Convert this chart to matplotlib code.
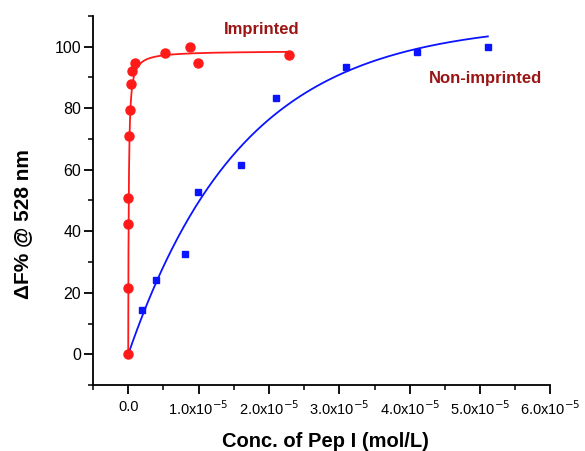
import numpy as np
import matplotlib
matplotlib.use('Agg')
import matplotlib.pyplot as plt
from matplotlib.ticker import MultipleLocator, FuncFormatter

plt.rcParams['font.family'] = ['Liberation Sans', 'DejaVu Sans']

# concentrations in units of 1e-5 mol/L
imp_x = [0, 0.002, 0.003, 0.004, 0.006, 0.03, 0.04, 0.06, 0.10, 0.52, 0.88, 0.99, 2.29]
imp_y = [0, 21.6, 42.2, 50.9, 70.8, 79.4, 87.8, 92.0, 94.5, 97.9, 100.0, 94.6, 97.3]

non_x = [0, 0.19, 0.39, 0.80, 0.99, 1.60, 2.10, 3.10, 4.10, 5.11]
non_y = [0, 14.3, 24.1, 32.5, 52.7, 61.5, 83.2, 93.2, 98.1, 100.0]

# fit parameters
imp_bmax, imp_k = 98.6, 0.0075      # y = bmax*x/(k+x)
non_a, non_t = 108.0, 1.63          # y = a*(1-exp(-x/t))

xticks = [0, 1, 2, 3, 4, 5, 6]
red = '#ff1a1a'
blue = '#0a14ff'
label_col = '#9a1515'

fig = plt.figure(figsize=(5.85, 4.51), dpi=100)
ax = fig.add_axes([0.159, 0.146, 0.782, 0.819])

xf = np.linspace(0, max(imp_x), 600)
ax.plot(xf, imp_bmax * xf / (imp_k + xf), color=red, lw=1.3, zorder=2)
xn = np.linspace(0, max(non_x), 300)
ax.plot(xn, non_a * (1 - np.exp(-xn / non_t)), color=blue, lw=1.3, zorder=2)

ax.plot(imp_x, imp_y, 'o', color=red, ms=6.5, mec=red, zorder=3)
ax.plot(non_x[1:], non_y[1:], 's', color=blue, ms=5, mec=blue, zorder=3)

ax.set_xlim(-0.5, 6.0)
ax.set_ylim(-10, 110)

for s in ['top', 'right']:
    ax.spines[s].set_visible(False)
for s in ['left', 'bottom']:
    ax.spines[s].set_linewidth(1.3)

ax.set_xticks(xticks)
ax.xaxis.set_minor_locator(MultipleLocator(0.5))
ax.yaxis.set_minor_locator(MultipleLocator(10))
ax.set_yticks([0, 20, 40, 60, 80, 100])

def fmt(v, pos):
    if v == 0:
        return '0.0'
    return '%.1fx10$^{-5}$' % v

ax.xaxis.set_major_formatter(FuncFormatter(fmt))
ax.tick_params(which='major', direction='out', length=6.5, width=1.3)
ax.tick_params(which='minor', direction='out', length=3.5, width=1.1)
ax.tick_params(axis='x', which='major', pad=4, labelsize=10.5)
ax.tick_params(axis='y', which='major', pad=2, labelsize=11.5)

ax.set_xlabel('Conc. of Pep I (mol/L)', fontsize=14.5, fontweight='bold')
ax.xaxis.set_label_coords(0.509, -0.128)
ax.set_ylabel('ΔF% @ 528 nm', fontsize=15, fontweight='bold')
ax.yaxis.set_label_coords(-0.133, 0.436)

ax.text(1.9, 105.5, 'Imprinted', color=label_col, fontsize=12, fontweight='bold', ha='center', va='center')
ax.text(5.08, 89.5, 'Non-imprinted', color=label_col, fontsize=12, fontweight='bold', ha='center', va='center')

fig.savefig('out.png', dpi=100)
